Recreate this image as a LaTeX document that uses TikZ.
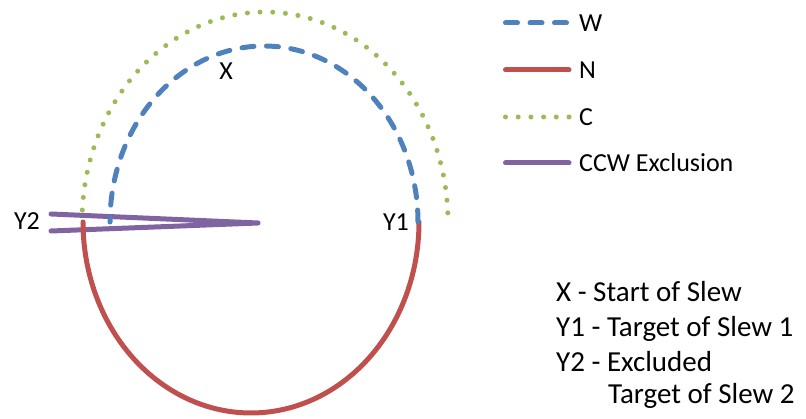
\documentclass[tikz,border=0pt]{standalone}
\usepackage{fontspec}
\setmainfont{Carlito}
\usepackage{tikz}
\usetikzlibrary{positioning}
\definecolor{wblue}{HTML}{4F81BD}
\definecolor{nred}{HTML}{C0504D}
\definecolor{cgreen}{HTML}{9BBB59}
\definecolor{xpurple}{HTML}{8064A2}

\begin{document}
\begin{tikzpicture}[x=1pt,y=-1pt,
    wline/.style={wblue,line width=5pt,line cap=round,dash pattern=on 12pt off 12.5pt},
    nline/.style={nred,line width=5pt,line cap=round},
    cline/.style={cgreen,line width=5pt,line cap=round,dash pattern=on 0pt off 12.7pt},
    xline/.style={xpurple,line width=5pt,line cap=round,line join=round},
    lbl/.style={inner sep=0pt,font=\fontsize{26}{31}\selectfont},
    note/.style={inner sep=0pt,anchor=base west,font=\fontsize{29}{35}\selectfont}]
  \useasboundingbox (0,0) rectangle (806,419);

  \coordinate (hub) at (258,223);
  \coordinate (y2top) at (51,214);
  \coordinate (y2bot) at (51,231);
  \draw[xline] (y2top) -- (hub) -- (y2bot);

  \draw[nline,domain=0:180,samples=120]
    plot ({251+168*cos(\x)},{222+191*sin(\x)});
  \draw[wline,domain=0:-180,samples=120]
    plot ({264+154*cos(\x)},{222+176*sin(\x)});
  \draw[cline,domain=-2.5:-180,samples=120]
    plot ({265+183*cos(\x)},{222+210*sin(\x)});

  \node[lbl,anchor=base] (x) at (226,80) {X};
  \node[lbl,anchor=base] (y1) at (396,231) {Y1};
  \node[lbl,anchor=base] (y2) at (27,230) {Y2};

  \foreach \sty/\txt/\yy [count=\i] in {wline/W/23, nline/N/70, cline/C/117, xline/CCW Exclusion/163}{
    \coordinate (k\i a) at (505.5,\yy);
    \coordinate (k\i b) at (569,\yy);
    \draw[\sty] (k\i a) -- (k\i b);
    \node[lbl,anchor=west] (key\i) at (579,\yy) {\txt};
  }

  \node[note] (n1) at (556,302) {X - Start of Slew};
  \node[note] (n2) at (556,337) {Y1 - Target of Slew 1};
  \node[note] (n3) at (556,372) {Y2 - Excluded};
  \node[note] (n4) at (608,403) {Target of Slew 2};
\end{tikzpicture}
\end{document}
